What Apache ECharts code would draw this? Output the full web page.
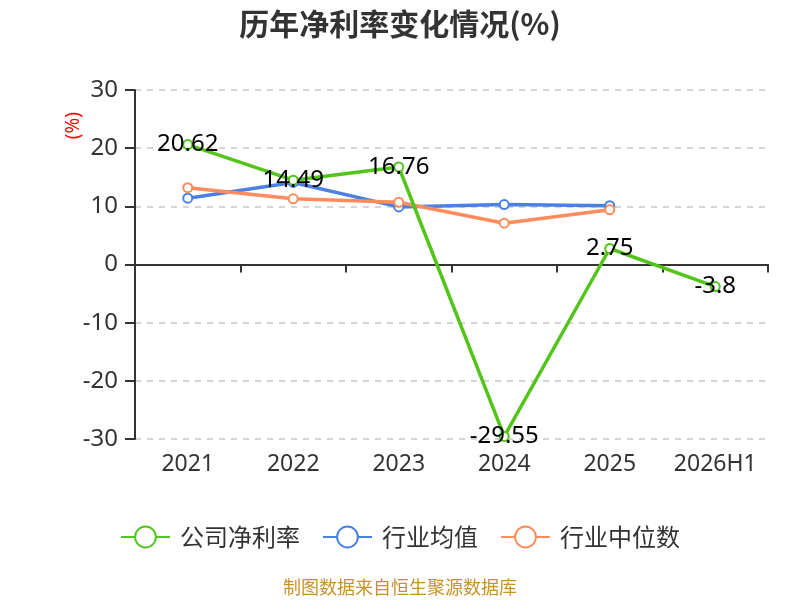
<!DOCTYPE html>
<html>
<head>
<meta charset="utf-8">
<script src="https://cdn.jsdelivr.net/npm/echarts@6/dist/echarts.min.js"></script>
<style>
  html, body { margin: 0; padding: 0; background: #fff; }
  #main { width: 800px; height: 600px; }
</style>
</head>
<body>
<div id="main"></div>
<script>
// 数据
let years = ['2021', '2022', '2023', '2024', '2025', '2026H1'];
let companyRate = [20.62, 14.49, 16.76, -29.55, 2.75, -3.8];
let industryAvg = [11.4, 14.1, 9.9, 10.3, 10.1];
let industryMid = [13.2, 11.3, 10.7, 7.1, 9.4];
let yTicks = { min: -30, max: 30, interval: 10 };

let chart = echarts.init(document.getElementById('main'));

let option = {
  backgroundColor: '#fff',
  color: ['#52c41a', '#4a80e6', '#ff8c5a'],
  title: {
    text: '历年净利率变化情况(%)',
    left: 'center',
    top: 4,
    textStyle: { fontSize: 30, fontWeight: 'bold', color: '#333', fontFamily: 'Noto Sans CJK SC' }
  },
  legend: {
    top: 520,
    left: 'center',
    itemWidth: 49,
    itemHeight: 26,
    itemGap: 22,
    textStyle: { fontSize: 24, color: '#333', fontFamily: 'Noto Sans CJK SC', padding: [0, 0, 0, 5] },
    data: ['公司净利率', '行业均值', '行业中位数']
  },
  grid: { left: 135, right: 32, top: 90, bottom: 161 },
  xAxis: [
    {
      type: 'category',
      data: years,
      axisLine: { onZero: true, lineStyle: { color: '#333', width: 2 } },
      axisTick: { show: true, length: 8, lineStyle: { color: '#333', width: 2 } },
      axisLabel: { show: false }
    },
    {
      type: 'category',
      data: years,
      position: 'bottom',
      axisLine: { show: false, onZero: false },
      axisTick: { show: false },
      axisLabel: { interval: 0, fontSize: 23, color: '#333', margin: 14, fontFamily: 'Noto Sans' }
    }
  ],
  yAxis: {
    type: 'value',
    min: yTicks.min,
    max: yTicks.max,
    interval: yTicks.interval,
    axisLine: { show: true, lineStyle: { color: '#333', width: 2 } },
    axisTick: { show: true, length: 10, lineStyle: { color: '#333', width: 2 } },
    axisLabel: { fontSize: 24, color: '#333', margin: 17, fontFamily: 'Noto Sans' },
    splitLine: { lineStyle: { type: [6, 6], color: '#c8c8c8', width: 1.5 } }
  },
  graphic: [
    {
      type: 'text',
      left: 64,
      top: 112,
      rotation: Math.PI / 2,
      style: { text: '(%)', fill: '#ff0000', fontSize: 19, fontFamily: 'Noto Sans' }
    },
    {
      type: 'text',
      left: 'center',
      top: 578,
      style: { text: '制图数据来自恒生聚源数据库', fill: '#c8922a', fontSize: 18, fontFamily: 'Noto Sans CJK SC' }
    }
  ],
  series: [
    {
      name: '公司净利率',
      type: 'line',
      data: companyRate,
      symbol: 'emptyCircle',
      symbolSize: 9,
      lineStyle: { width: 3.5 },
      z: 3,
      label: {
        show: true,
        position: 'inside',
        color: '#000',
        fontSize: 24,
        fontFamily: 'Noto Sans'
      }
    },
    {
      name: '行业均值',
      type: 'line',
      data: industryAvg,
      symbol: 'emptyCircle',
      symbolSize: 9,
      lineStyle: { width: 3.5 },
      z: 2
    },
    {
      name: '行业中位数',
      type: 'line',
      data: industryMid,
      symbol: 'emptyCircle',
      symbolSize: 9,
      lineStyle: { width: 3.5 },
      z: 2
    }
  ]
};

chart.setOption(option);
</script>
</body>
</html>
